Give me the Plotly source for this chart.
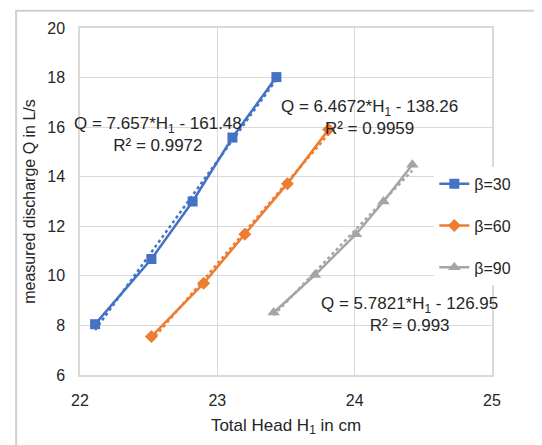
import plotly.graph_objects as go

# ---- data ----
series_names = ["β=30", "β=60", "β=90"]
h30 = [22.11, 22.52, 22.82, 23.11, 23.43]
q30 = [8.05, 10.68, 13.0, 15.58, 18.02]
h60 = [22.52, 22.90, 23.20, 23.51, 23.81]
q60 = [7.55, 9.7, 11.68, 13.72, 15.9]
h90 = [23.41, 23.71, 24.01, 24.21, 24.42]
q90 = [8.52, 10.03, 11.68, 13.0, 14.48]
slopes = [7.657, 6.4672, 5.7821]
intercepts = [-161.48, -138.26, -126.95]
r2_values = ["0.9972", "0.9959", "0.993"]
x_ticks = [22, 23, 24, 25]
y_ticks = [6, 8, 10, 12, 14, 16, 18, 20]

colors = ["#4472C4", "#ED7D31", "#A5A5A5"]
symbols = ["square", "diamond", "triangle-up"]
sizes = [10, 10, 11]
hs = [h30, h60, h90]
qs = [q30, q60, q90]
eq_pos = [(22.57, 15.72), (24.105, 16.38), (24.40, 8.46)]

FONT = "Liberation Sans, Arial, sans-serif"
TXT = "#262626"

fig = go.Figure()
for i in range(3):
    fig.add_trace(go.Scatter(
        x=hs[i], y=qs[i], mode="lines+markers", name=series_names[i],
        line=dict(color=colors[i], width=2.5),
        marker=dict(symbol=symbols[i], size=sizes[i], color=colors[i]),
        legendgroup=series_names[i],
    ))
for i in range(3):
    xs = [min(hs[i]), max(hs[i])]
    ys = [slopes[i] * x + intercepts[i] for x in xs]
    fig.add_trace(go.Scatter(
        x=xs, y=ys, mode="lines", showlegend=False,
        line=dict(color=colors[i], width=2.5, dash="dot"),
    ))
    fig.add_annotation(
        x=eq_pos[i][0], y=eq_pos[i][1], xref="x", yref="y",
        text=f"Q = {slopes[i]}*H<sub>1</sub> - {abs(intercepts[i]):.2f}<br>R² = {r2_values[i]}",
        showarrow=False, align="center",
        font=dict(family=FONT, size=17, color=TXT),
    )

# outer chart border (kept inside the figure)
fig.add_shape(type="rect", xref="paper", yref="paper",
              x0=-0.155, x1=1.135, y0=-0.215, y1=1.05,
              line=dict(color="#cfcfcf", width=2), fillcolor="rgba(0,0,0,0)",
              layer="above")

fig.update_layout(
    width=542, height=445,
    margin=dict(l=72, r=58, t=20, b=78),
    paper_bgcolor="white", plot_bgcolor="white",
    font=dict(family=FONT, size=16, color=TXT),
    showlegend=True,
    legend=dict(x=0.86, y=0.60, xanchor="left", yanchor="top",
                bgcolor="white", borderwidth=0,
                font=dict(size=16, color=TXT),
                tracegroupgap=18, traceorder="grouped", itemwidth=30),
)
fig.update_xaxes(
    range=[22, 25], tickvals=x_ticks, showgrid=True, gridcolor="#d9d9d9",
    showline=True, linecolor="#d9d9d9", linewidth=1.5, mirror=True,
    zeroline=False, ticks="outside", ticklen=10, tickcolor="rgba(0,0,0,0)",
    title=dict(text="Total Head H<sub>1</sub> in cm", standoff=11,
               font=dict(size=17, color=TXT)),
)
fig.update_yaxes(
    range=[6, 20], tickvals=y_ticks, showgrid=True, gridcolor="#d9d9d9",
    showline=True, linecolor="#d9d9d9", linewidth=1.5, mirror=True,
    zeroline=False, ticks="outside", ticklen=10, tickcolor="rgba(0,0,0,0)",
    title=dict(text="measured discharge Q in L/s", standoff=8,
               font=dict(size=16, color=TXT)),
)
fig.write_html("out.html")
